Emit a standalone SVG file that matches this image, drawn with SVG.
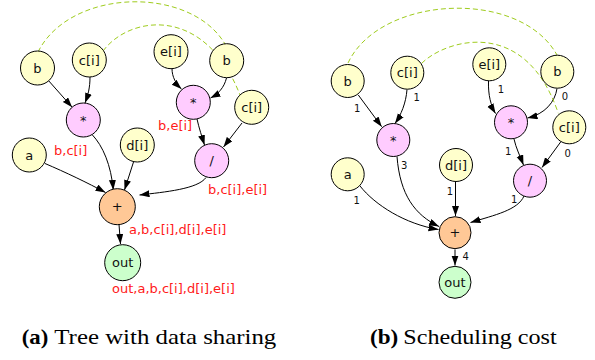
<svg xmlns="http://www.w3.org/2000/svg" width="595" height="360" viewBox="0 0 595 360">
<style>
.n{stroke:#000;stroke-width:1}
.y{fill:#ffffcc}.p{fill:#ffccff}.o{fill:#ffc896}.g{fill:#ccffcc}
.t{font-family:"DejaVu Sans",sans-serif;font-size:13px;fill:#111;text-anchor:middle}
.r{font-family:"DejaVu Sans",sans-serif;font-size:13px;fill:#ff1a1a}
.el{font-family:"DejaVu Sans",sans-serif;font-size:10px;fill:#111;text-anchor:middle}
.e{fill:none;stroke:#000;stroke-width:1;marker-end:url(#ah)}
.d{fill:none;stroke:#9fcc1e;stroke-width:1;stroke-dasharray:5,3}
.cap{font-family:"Liberation Serif",serif;font-size:21px;fill:#000}
</style>
<defs>
<marker id="ah" markerUnits="userSpaceOnUse" markerWidth="11" markerHeight="8" refX="10" refY="3.5" orient="auto">
<path d="M0,0 L10,3.5 L0,7 z" fill="#000"/>
</marker>
</defs>
<g id="connectors">
<path class="e" d="M48.7,80.8 L72.1,107.2"/>
<path class="e" d="M90,77 C90,88 88,95 85,103"/>
<path class="e" d="M172,68.5 C172,77 176,84 181.5,89"/>
<path class="e" d="M226.5,78 C224,88 218,94 210.5,98"/>
<path class="e" d="M197,119 C199,128 202,137 204.5,145"/>
<path class="e" d="M242,123 L223.5,147"/>
<path class="e" d="M92,134.5 C103,146 111,165 113.3,190"/>
<path class="e" d="M133.5,162 L124.5,190"/>
<path class="e" d="M45,163.5 C65,172 88,183 105.5,192.5"/>
<path class="e" d="M206,177.5 C198,189 165,192 139.5,195"/>
<path class="e" d="M119,224.5 L120.5,244"/>
<path class="d" d="M38,52 C70,-12 190,-15 225,44"/>
<path class="d" d="M103,51 C130,15 205,5 240,95"/>
<path class="e" d="M358.3,95 L381.7,126.7"/>
<path class="e" d="M407,89.5 C406,103 401,115 395,123.5"/>
<path class="e" d="M488.5,81 C488,95 491,106 495.5,113.5"/>
<path class="e" d="M557,88.5 C555,102 545,114 527.5,118"/>
<path class="e" d="M514,139 C516,148 520,156 523.5,165"/>
<path class="e" d="M561,141.5 L542,167.5"/>
<path class="e" d="M397,156.5 C400,195 415,215 439,226.5"/>
<path class="e" d="M455.5,181.5 L455.5,216"/>
<path class="e" d="M360,186 C375,205 405,224 438.5,229.5"/>
<path class="e" d="M524,196 C518,210 495,215 470.5,222.5"/>
<path class="e" d="M455,249.5 L455,265.5"/>
<path class="d" d="M348,63 C380,-5 520,-12 557,55"/>
<path class="d" d="M421.7,63.3 C445,40 525,15 558.3,113.3"/>
</g>
<g id="a_b1"><circle class="n y" cx="37.5" cy="68" r="17"/><text class="t" x="37.5" y="72.5">b</text></g>
<g id="a_c1"><circle class="n y" cx="89.3" cy="60" r="17"/><text class="t" x="89.3" y="64.5">c[i]</text></g>
<g id="a_e"><circle class="n y" cx="171" cy="51.7" r="17"/><text class="t" x="171" y="56.2">e[i]</text></g>
<g id="a_b2"><circle class="n y" cx="226.7" cy="60.7" r="17"/><text class="t" x="226.7" y="65.2">b</text></g>
<g id="a_m1"><circle class="n p" cx="83.3" cy="120" r="17"/><text class="t" x="83.3" y="124.5">*</text></g>
<g id="a_m2"><circle class="n p" cx="193.3" cy="102.3" r="17"/><text class="t" x="193.3" y="106.8">*</text></g>
<g id="a_c2"><circle class="n y" cx="251.7" cy="107.3" r="17"/><text class="t" x="251.7" y="111.8">c[i]</text></g>
<g id="a_d"><circle class="n y" cx="137.3" cy="145" r="17"/><text class="t" x="137.3" y="149.5">d[i]</text></g>
<g id="a_a"><circle class="n y" cx="29.3" cy="155" r="17"/><text class="t" x="29.3" y="159.5">a</text></g>
<g id="a_div"><circle class="n p" cx="211.7" cy="160.7" r="17"/><text class="t" x="211.7" y="165.2">/</text></g>
<g id="a_plus"><circle class="n o" cx="117.3" cy="206.7" r="18"/><text class="t" x="117.3" y="211.2">+</text></g>
<g id="a_out"><circle class="n g" cx="122.7" cy="262.7" r="18"/><text class="t" x="122.7" y="267.2">out</text></g>
<g id="a_labels">
<text class="r" x="158" y="130">b,e[i]</text>
<text class="r" x="54" y="155">b,c[i]</text>
<text class="r" x="208" y="193.5">b,c[i],e[i]</text>
<text class="r" x="129" y="233.5">a,b,c[i],d[i],e[i]</text>
<text class="r" x="112" y="292.7">out,a,b,c[i],d[i],e[i]</text>
</g>
<g id="b_b1"><circle class="n y" cx="347.7" cy="81" r="16.5"/><text class="t" x="347.7" y="85.5">b</text></g>
<g id="b_c1"><circle class="n y" cx="407.3" cy="72.7" r="16.5"/><text class="t" x="407.3" y="77.2">c[i]</text></g>
<g id="b_e"><circle class="n y" cx="489.3" cy="64.3" r="16.5"/><text class="t" x="489.3" y="68.8">e[i]</text></g>
<g id="b_b2"><circle class="n y" cx="557.3" cy="71.7" r="16.5"/><text class="t" x="557.3" y="76.2">b</text></g>
<g id="b_m1"><circle class="n p" cx="393.3" cy="140" r="16.5"/><text class="t" x="393.3" y="144.5">*</text></g>
<g id="b_m2"><circle class="n p" cx="511" cy="122.3" r="16.5"/><text class="t" x="511" y="126.8">*</text></g>
<g id="b_c2"><circle class="n y" cx="569.3" cy="127.3" r="16.5"/><text class="t" x="569.3" y="131.8">c[i]</text></g>
<g id="b_d"><circle class="n y" cx="456" cy="165" r="16.5"/><text class="t" x="456" y="169.5">d[i]</text></g>
<g id="b_a"><circle class="n y" cx="347.7" cy="174.3" r="16.5"/><text class="t" x="347.7" y="178.8">a</text></g>
<g id="b_div"><circle class="n p" cx="530" cy="180.7" r="16.5"/><text class="t" x="530" y="185.2">/</text></g>
<g id="b_plus"><circle class="n o" cx="455" cy="232.7" r="16"/><text class="t" x="455" y="237.2">+</text></g>
<g id="b_out"><circle class="n g" cx="455" cy="282.3" r="16"/><text class="t" x="455" y="286.8">out</text></g>
<g id="b_labels">
<text class="el" x="357.3" y="112">1</text>
<text class="el" x="416.7" y="101">1</text>
<text class="el" x="501" y="93">1</text>
<text class="el" x="565" y="99.7">0</text>
<text class="el" x="404.3" y="168.7">3</text>
<text class="el" x="508.3" y="155.4">1</text>
<text class="el" x="567.7" y="157">0</text>
<text class="el" x="450" y="194.7">1</text>
<text class="el" x="356.7" y="204.4">1</text>
<text class="el" x="514.3" y="202.7">1</text>
<text class="el" x="465.7" y="260.4">4</text>
</g>
<g id="captions">
<text class="cap" x="21.7" y="344" font-weight="bold" textLength="26.6" lengthAdjust="spacingAndGlyphs">(a)</text>
<text class="cap" x="54.3" y="344" textLength="222" lengthAdjust="spacingAndGlyphs">Tree with data sharing</text>
<text class="cap" x="370" y="344" font-weight="bold" textLength="28.3" lengthAdjust="spacingAndGlyphs">(b)</text>
<text class="cap" x="403.3" y="344" textLength="153.4" lengthAdjust="spacingAndGlyphs">Scheduling cost</text>
</g>
</svg>
